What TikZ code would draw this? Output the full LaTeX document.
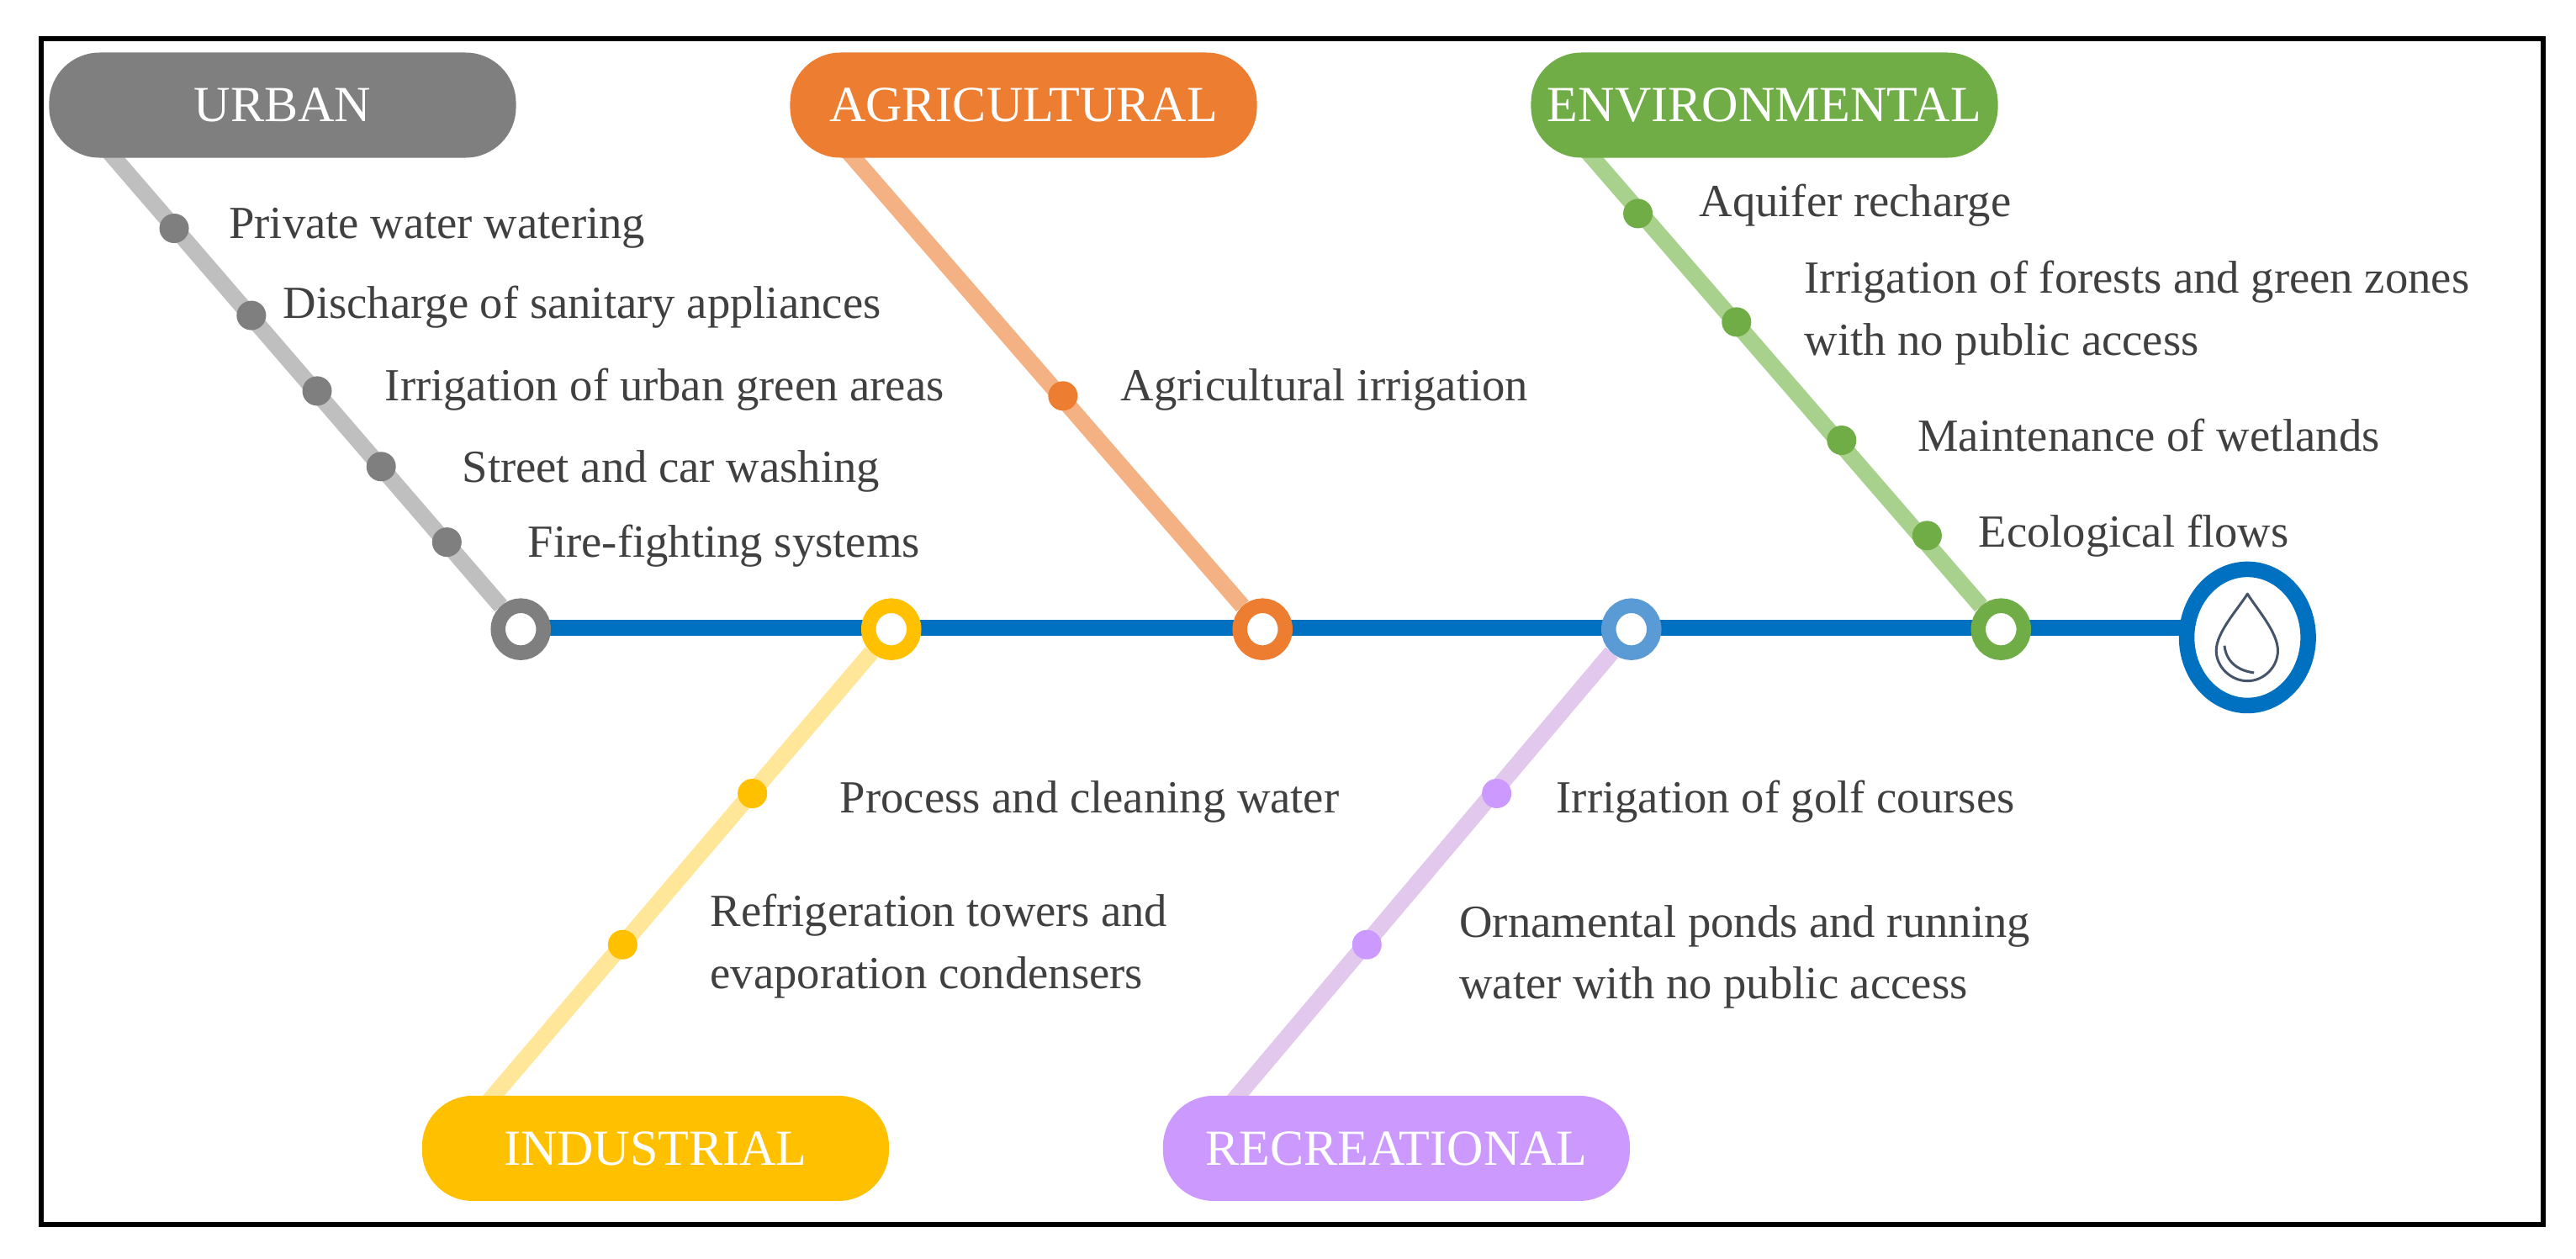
\documentclass[tikz,border=0pt]{standalone}
\usepackage{fontspec}
\setmainfont{Liberation Serif}
\usetikzlibrary{backgrounds,shapes.geometric}
\definecolor{spine}{HTML}{0070C0}
\definecolor{txt}{HTML}{404040}
\definecolor{cU}{HTML}{7F7F7F}\definecolor{lU}{HTML}{BFBFBF}
\definecolor{cA}{HTML}{ED7D31}\definecolor{lA}{HTML}{F4B183}
\definecolor{cE}{HTML}{70AD47}\definecolor{lE}{HTML}{A9D18E}
\definecolor{cI}{HTML}{FFC000}\definecolor{lI}{HTML}{FFE699}
\definecolor{cR}{HTML}{CC99FF}\definecolor{lR}{HTML}{E2C8EC}
\definecolor{cH}{HTML}{5B9BD5}
\definecolor{dropc}{HTML}{44546A}
\tikzset{
 x=0.019534cm,y=-0.019534cm,
 pill/.style={rounded corners=0.6cm,minimum width=5.55cm,minimum height=1.25cm,inner sep=0pt,text=white,fill=#1,font=\fontsize{17.1}{19}\selectfont},
 hub/.style={ellipse,draw=#1,fill=white,line width=0.175cm,minimum width=0.54cm,minimum height=0.56cm,inner sep=0pt},
 dot/.style={circle,fill=#1,minimum size=0.35cm,inner sep=0pt},
 lab/.style={anchor=west,inner sep=0pt,text=txt,align=left,font=\fontsize{15.55}{21}\selectfont},
 branch/.style={line width=0.195cm,draw=#1},
}
\begin{document}
\begin{tikzpicture}
\useasboundingbox (0,0) rectangle (1568,766);
\node[rectangle,draw=black,line width=0.06cm,minimum width=29.75cm,minimum height=14.09cm,inner sep=0pt] (frame) at (786.5,384.5) {};
% pills
\node[pill=cU] (urban) at (172,64) {\raisebox{-1pt}{URBAN}};
\node[pill=cA] (agri) at (623,64) {\raisebox{-1pt}{AGRICULTURAL}};
\node[pill=cE] (env) at (1074,64) {\raisebox{-1pt}{ENVIRONMENTAL}};
\node[pill=cI] (ind) at (399,699) {\raisebox{-1pt}{INDUSTRIAL}};
\node[pill=cR] (rec) at (850,699) {\raisebox{-1pt}{RECREATIONAL}};
% hubs
\node[hub=cU] (hU) at (317,383) {};
\node[hub=cI] (hI) at (542.5,383) {};
\node[hub=cA] (hA) at (768.5,383) {};
\node[hub=cH] (hR) at (993,383) {};
\node[hub=cE] (hE) at (1218,383) {};
% end ring
\node[ellipse,draw=spine,fill=white,line width=0.185cm,minimum width=1.445cm,minimum height=1.62cm,inner sep=0pt] (ring) at (1368,388) {};
\coordinate (startc) at (317,382.2);
\coordinate (endc) at (1340,382.2);
% drop
\draw[dropc,line width=0.03cm,line join=round] (1368,361.5)
  .. controls (1362,371) and (1349,385) .. (1349,396)
  .. controls (1349,406) and (1358,414.5) .. (1368,414.5)
  .. controls (1378,414.5) and (1386.5,406) .. (1386.5,396)
  .. controls (1386.5,385) and (1374,371) .. (1368,361.5) -- cycle;
\draw[dropc,line width=0.03cm] (1354,393) .. controls (1355,402) and (1361,408) .. (1372,409.5);
% coordinates at pill edges
\coordinate (tU) at (66,92);
\coordinate (tA) at (516,92);
\coordinate (tE) at (966,92);
\coordinate (tI) at (297,671);
\coordinate (tR) at (750,671);
\begin{scope}[on background layer]
\draw[branch=lU] (tU) -- (hU);
\draw[branch=lA] (tA) -- (hA);
\draw[branch=lE] (tE) -- (hE);
\draw[branch=lI] (tI) -- (hI);
\draw[branch=lR] (tR) -- (hR);
\draw[branch=spine] (startc) -- (endc);
\end{scope}
% dots
\node[dot=cU] (u1) at (106,139) {};
\node[dot=cU] (u2) at (153,192) {};
\node[dot=cU] (u3) at (193,238) {};
\node[dot=cU] (u4) at (232,284) {};
\node[dot=cU] (u5) at (272,330) {};
\node[dot=cA] (a1) at (647,241) {};
\node[dot=cE] (e1) at (997,130) {};
\node[dot=cE] (e2) at (1057,196) {};
\node[dot=cE] (e3) at (1121,268) {};
\node[dot=cE] (e4) at (1173,326) {};
\node[dot=cI] (i1) at (458,483) {};
\node[dot=cI] (i2) at (379,575) {};
\node[dot=cR] (r1) at (911,483) {};
\node[dot=cR] (r2) at (832,575) {};
% labels
\node[lab] (lu1) at (139,139) {Private water watering};
\node[lab] (lu2) at (172,187) {Discharge of sanitary appliances};
\node[lab] (lu3) at (234,237) {Irrigation of urban green areas};
\node[lab] (lu4) at (281,287) {Street and car washing};
\node[lab] (lu5) at (321,332.5) {Fire-fighting systems};
\node[lab] (la1) at (682,237) {Agricultural irrigation};
\node[lab] (le1) at (1034,125) {Aquifer recharge};
\node[lab] (le2) at (1098,190.5) {Irrigation of forests and green zones\\with no public access};
\node[lab] (le3) at (1167,265) {Maintenance of wetlands};
\node[lab] (le4) at (1204,326) {Ecological flows};
\node[lab] (li1) at (511,488) {Process and cleaning water};
\node[lab] (li2) at (432,576) {Refrigeration towers and\\evaporation condensers};
\node[lab] (lr1) at (947,488) {Irrigation of golf courses};
\node[lab] (lr2) at (888,582.5) {Ornamental ponds and running\\water with no public access};
\end{tikzpicture}
\end{document}
